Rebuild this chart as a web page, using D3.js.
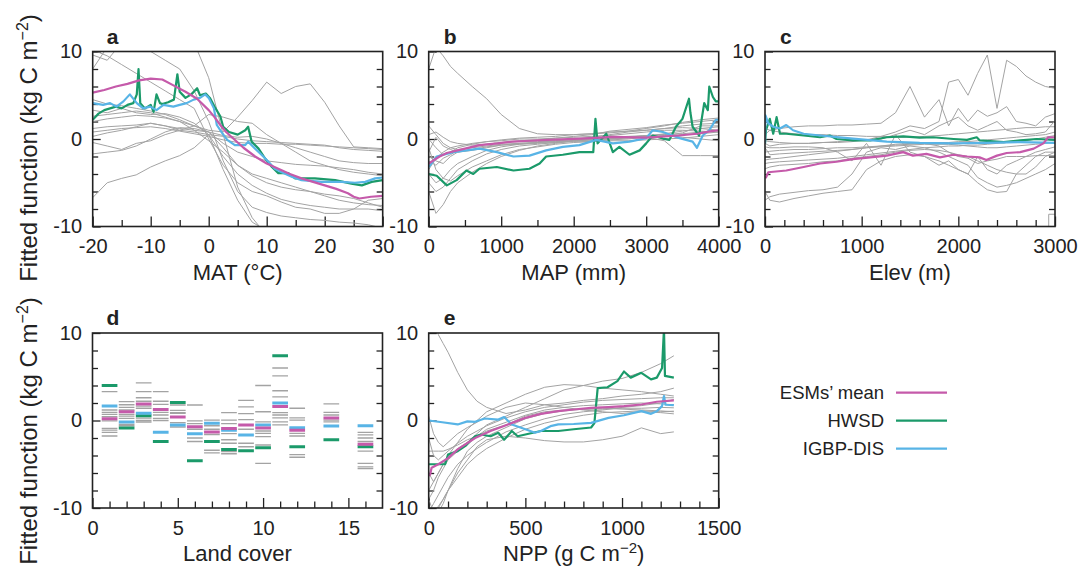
<!DOCTYPE html>
<meta charset="utf-8">
<script src="https://d3js.org/d3.v7.min.js"></script>
<style>
  body { margin: 0; background: #fff; font-family: "Liberation Sans", Arial, Helvetica, sans-serif; }
  svg text { fill: #222; }
  .axis line { stroke: #222; stroke-width: 1.3; }
  .axis text { font-size: 20px; font-family: "Liberation Sans", Arial, sans-serif; fill: #222; }
</style>
<body>
<div id="viz"></div>
<script>
// ---------- data ----------
const yMajor = [-10, 0, 10];
const yMinor = [-8, -6, -4, -2, 2, 4, 6, 8];
const yRight = [-8, -6, -4, -2, 0, 2, 4, 6, 8];

// a: MAT
const matMajor = [-20, -10, 0, 10, 20, 30];
const matMinor = [-15, -5, 5, 15, 25];
const matGrid = [-20, -17.5, -15, -12.5, -10, -7.5, -5, -2.5, 0, 2.5, 5, 7.5, 10, 12.5, 15, 17.5, 20, 22.5, 25, 27.5, 30];
const matModels = [
  [9.6, 9.0, 11, 12, 12, 12, 11.5, 11, 7, 0.5, -5.5, -9, -11, -11, -11, -11, -11, -11, -11, -11, -11],
  [8.0, 10.5, 11, 11, 10, 9, 8, 5.5, 2, -2.5, -6, -7.8, -8.4, -8.8, -9.0, -9.2, -9.3, -9.5, -9.6, -9.8, -10.2],
  [3.3, 3.0, 3.5, 3.0, 2.8, 2.9, 2.5, 1.8, 0.5, -2.0, -4.0, -5.3, -6.2, -6.9, -7.3, -7.6, -7.8, -8.0, -8.0, -8.0, -8.2],
  [2.0, 2.3, 2.5, 2.7, 2.6, 2.4, 2.0, 1.5, 1.0, 0.8, 2.5, 4.4, 6.5, 5.2, 6.0, 6.3, 4.2, 1.5, -0.9, -1.0, -1.1],
  [1.2, 1.4, 1.5, 1.6, 1.8, 1.5, 1.0, 0.8, 0.5, 0.3, 0.0, -0.2, -0.3, -0.4, -0.5, -0.6, -0.7, -1.0, -1.2, -1.3, -1.4],
  [0.8, 1.0, 1.2, 1.3, 1.4, 1.2, 0.9, 0.6, 0.3, -0.1, -0.4, -0.5, -0.5, -0.6, -0.6, -0.7, -0.8, -0.9, -1.0, -1.1, -1.2],
  [0.3, 0.7, 1.0, 1.4, 1.8, 1.5, 1.2, 1.0, 0.8, 0.4, 0.2, 0.3, 0.0, -0.5, -1.0, -1.5, -2.0, -2.5, -2.7, -2.8, -2.8],
  [-0.4, -0.8, -1.2, -0.5, -0.2, 0.5, 1.0, 1.5, 2.8, 2.5, 2.0, 1.8, 0.5, -0.5, -1.5, -2.5, -3.0, -3.5, -3.8, -4.0, -4.2],
  [-6.7, -5.0, -4.5, -4.1, -3.2, -2.5, -1.9, -1.0, 0.5, -3.5, -7.0, -9.5, -10.5, -11, -11, -11, -11, -11, -11, -11, -11],
  [-1.7, -1.5, -1.3, -0.8, 0.0, 0.8, 1.3, 1.2, 0.8, -1.0, -3.0, -4.0, -4.5, -5.0, -5.5, -6.0, -6.5, -7.0, -7.3, -7.5, -7.6],
  [4.5, 4.0, 3.8, 3.5, 3.2, 2.8, 2.2, 1.5, 0.8, -0.5, -1.5, -2.0, -2.5, -2.7, -2.9, -3.0, -3.1, -3.3, -3.5, -3.8, -4.0],
  [10.2, 9.5, 8.5, 7.5, 6.5, 5.5, 4.5, 3.5, 0.0, -3.0, -5.0, -6.0, -6.5, -7.2, -7.8, -8.0, -8.5, -8.5, -8.0, -7.0, -6.8],
  [2.6, 2.8, 3.0, 3.2, 3.0, 2.5, 2.0, 1.0, -0.2, -1.5, -3.0, -4.2, -5.0, -5.5, -5.8, -6.0, -6.3, -6.5, -6.8, -7.3, -7.8]
];
const matMeanX = [-20, -18, -16, -14, -12, -10, -8, -6, -4, -2, 0, 1, 2, 3, 4, 5, 6, 8, 10, 12, 14, 16, 18, 20, 22, 24, 25, 26, 28, 30];
const matMean = [5.3, 5.6, 6.0, 6.3, 6.7, 6.9, 6.8, 6.1, 5.4, 4.6, 3.3, 2.5, 1.6, 0.8, 0.2, -0.4, -1.0, -2.0, -2.8, -3.4, -4.0, -4.5, -4.9, -5.3, -5.7, -6.2, -6.6, -6.8, -6.6, -6.5];
const matHwsdX = [-20, -19, -18, -17, -16, -15, -14, -13, -12.4, -12.1, -11.8, -11, -10, -9.5, -9, -8.4, -8, -7, -6, -5.4, -5, -4, -3, -2, -1.5, -0.5, 0.2, 1, 2, 2.5, 3.5, 5, 6.3, 6.8, 7.4, 8.6, 9.7, 10.9, 12, 13.7, 14.9, 18.3, 21.8, 24.6, 26.4, 28.1, 30];
const matHwsd = [2.2, 2.9, 3.3, 3.5, 3.7, 3.5, 3.9, 4.1, 5.1, 8.0, 4.1, 3.5, 3.9, 3.1, 5.1, 4.1, 4.0, 4.2, 4.5, 7.4, 5.4, 4.7, 5.1, 5.8, 5.0, 5.2, 4.7, 3.7, 2.6, 1.4, 0.8, 0.5, 1.0, 1.4, -0.3, -1.1, -2.2, -3.2, -3.9, -3.9, -4.5, -4.5, -4.7, -5.1, -5.3, -4.9, -4.7];
const matIgbpX = [-20, -18.2, -17, -15.9, -14.7, -13.6, -12.4, -11.3, -10.1, -9, -7.8, -6.1, -5, -3.8, -2.6, -1.5, -0.6, 0, 0.9, 1.4, 2.3, 3.2, 4.5, 6.3, 6.8, 8, 9.1, 10.3, 11.4, 12.6, 14.3, 16, 19.5, 22.9, 25.2, 27, 28.7, 30];
const matIgbp = [4.1, 3.9, 4.1, 3.7, 4.3, 5.1, 4.1, 3.5, 3.7, 3.3, 3.9, 3.7, 3.9, 4.1, 4.5, 4.7, 5.1, 4.7, 3.5, 1.6, 0.7, -0.1, -0.7, -0.7, -0.3, -1.1, -1.8, -2.6, -3.4, -3.8, -4.3, -4.7, -4.9, -4.9, -5.0, -4.9, -4.5, -4.4];

// b: MAP
const mapMajor = [0, 1000, 2000, 3000, 4000];
const mapMinor = [500, 1500, 2500, 3500];
const mapGrid = [0, 100, 200, 300, 400, 600, 800, 1000, 1250, 1500, 1750, 2000, 2250, 2500, 2750, 3000, 3250, 3500, 3750, 4000];
const mapModels = [
  [8, 10.5, 9.5, 8.3, 7.5, 6.0, 4.6, 2.8, 1.2, 0.6, 0.5, 0.5, 0.6, 0.8, 0.9, 1.2, 1.5, 1.9, 2.2, 2.4],
  [-6, -8.5, -7.5, -6, -5, -3.8, -2.8, -2.0, -1.3, -0.8, -0.5, -0.2, 0.0, 0.2, 0.3, 0.4, 0.5, 0.6, 0.8, 1.0],
  [-1.0, -3.5, -4.5, -4.8, -4.2, -3.2, -2.5, -1.8, -1.2, -0.9, -0.6, -0.4, -0.3, -0.1, 0.0, 0.2, 0.3, 0.5, 0.6, 0.8],
  [1.5, 0.5, -0.5, -1.0, -1.2, -1.0, -0.8, -0.6, -0.5, -0.4, -0.3, -0.2, -0.1, 0.0, 0.1, 0.2, -0.2, -1.9, -1.9, -1.9],
  [-2.0, -2.5, -2.8, -2.0, -1.5, -1.2, -0.9, -0.7, -0.6, -0.4, -0.2, 0.0, 0.2, 0.5, 0.8, 1.0, 1.2, 1.5, 1.7, 1.8],
  [-3.5, -2.2, -1.5, -1.0, -0.8, -0.5, -0.3, -0.1, 0.1, 0.2, 0.3, 0.5, 0.6, 0.7, 0.9, 1.0, 1.2, 1.3, 1.2, 1.0],
  [0.5, 0.8, 0.2, -0.3, -0.5, -0.7, -0.6, -0.4, -0.2, -0.1, 0.1, 0.3, 0.5, 0.9, 1.1, 1.3, 1.6, 1.8, 2.0, 2.2],
  [-4.0, -5.0, -4.5, -3.5, -2.8, -2.0, -1.3, -0.9, -0.6, -0.5, -0.4, -0.3, -0.3, -0.2, -0.2, -0.1, 0.0, 0.1, 0.3, 0.5],
  [-2.5, -3.0, -2.2, -1.8, -1.3, -0.9, -0.6, -0.4, -0.3, -0.3, -0.2, -0.1, 0.0, 0.1, 0.2, 0.3, 0.4, 0.7, 1.5, 1.5],
  [0.0, -1.0, -1.8, -1.5, -1.0, -0.6, -0.3, -0.2, 0.0, 0.0, 0.1, 0.2, 0.3, 0.4, 0.6, 0.8, 1.0, 1.0, 0.9, 0.8],
  [-5.0, -6.0, -5.5, -4.5, -3.5, -2.5, -1.7, -1.2, -0.8, -0.6, -0.4, -0.2, -0.1, 0.0, 0.2, 0.3, 0.6, 0.9, 1.2, 1.4],
  [-1.5, 0.2, -0.8, -1.2, -1.5, -1.3, -1.0, -0.7, -0.5, -0.4, -0.3, -0.2, -0.1, 0.1, 0.2, 0.4, 0.5, 0.2, 0.0, -0.2]
];
const mapMeanX = [0, 150, 250, 500, 700, 950, 1150, 1400, 1650, 2100, 2550, 3000, 3450, 3700, 3900, 4000];
const mapMean = [-2.8, -2.0, -1.6, -1.1, -0.7, -0.5, -0.3, -0.2, -0.1, 0.05, 0.25, 0.15, 0.4, 0.6, 0.9, 1.0];
const mapHwsdX = [0, 110, 250, 385, 520, 615, 700, 940, 1170, 1390, 1530, 1620, 1850, 2080, 2270, 2300, 2330, 2450, 2540, 2630, 2770, 2910, 3000, 3090, 3230, 3320, 3410, 3500, 3590, 3610, 3640, 3730, 3800, 3850, 3870, 3920, 3960, 4000];
const mapHwsd = [-4.0, -4.2, -5.3, -4.7, -3.6, -4.0, -3.4, -3.2, -3.6, -3.4, -2.8, -2.0, -1.8, -1.5, -1.5, 2.3, -0.5, 0.6, -1.5, -0.9, -1.8, -1.3, -0.5, 0.4, 0.05, -0.1, 1.4, 2.3, 4.6, 3.0, 1.4, 0.4, 4.1, 3.3, 6.0, 4.8, 4.3, 4.3];
const mapIgbpX = [0, 110, 340, 520, 700, 940, 1170, 1390, 1620, 1850, 2080, 2310, 2540, 2770, 3000, 3090, 3230, 3460, 3640, 3700, 3780, 3870, 3960, 4000];
const mapIgbp = [-3.2, -2.0, -1.5, -1.3, -1.1, -1.5, -2.0, -1.9, -1.3, -0.9, -0.7, -0.1, -0.5, -0.3, 0.1, 1.0, 0.8, 0.1, -0.3, -1.0, 0.4, 1.0, 2.2, 2.2];

// c: Elev
const elevMajor = [0, 1000, 2000, 3000];
const elevMinor = [200, 400, 600, 800, 1200, 1400, 1600, 1800, 2200, 2400, 2600, 2800];
const elevGrid = [0, 50, 150, 300, 450, 600, 750, 900, 1050, 1200, 1350, 1500, 1650, 1800, 1900, 2000, 2100, 2200, 2300, 2400, 2500, 2600, 2700, 2800, 2900, 3000];
const elevModels = [
  [-0.5, -0.8, -0.6, -0.5, -0.5, -0.4, -0.4, -0.3, -0.1, 0.3, 0.8, 1.5, 1.2, 2.0, 6.5, 6.8, 5.0, 7.5, 9.6, 3.5, 9.0, 8.3, 7.2, 6.5, 6.0, 5.8],
  [0.5, 1.0, 1.2, 1.4, 1.5, 1.5, 1.6, 1.6, 1.7, 1.8, 3.0, 6.0, 2.5, 4.5, 1.5, 3.5, 2.0, 3.3, 2.6, 3.0, 3.7, 2.0, 1.8, 1.5, 2.5, 2.9],
  [-7.0, -6.6, -6.3, -6.1, -5.9, -5.8, -5.5, -4.0, -1.5, -1.0, -1.2, -0.8, -1.0, -1.5, -2.0, -2.5, -3.0, -4.4, -5.0, -5.5, -5.3, -5.0, -4.5, -4.0, -3.5, -2.8],
  [-6.0, -7.0, -7.2, -6.8, -6.5, -6.2, -6.0, -5.8, -3.5, -2.5, -2.0, -1.8, -2.0, -2.5, -3.0, -3.5, -4.0, -5.0, -5.8, -6.1, -6.0, -4.0, -4.0, -3.2, -2.0, -1.5],
  [-3.4, -3.2, -3.0, -2.9, -2.8, -2.6, -2.5, -2.2, -2.0, -1.8, -1.5, -1.3, -1.2, -1.3, -1.5, -1.8, -2.0, -2.5, -3.0, -3.5, -3.8, -4.0, -3.0, -2.0, -1.5, -1.5],
  [-2.4, -2.3, -2.2, -2.0, -1.8, -1.6, -1.4, -1.2, -1.0, -0.9, -0.8, -0.7, -0.6, -0.6, -0.6, -0.7, -0.8, -0.9, -1.0, -1.0, -0.9, -0.8, -0.7, -0.6, -0.5, -0.35],
  [-1.5, -1.4, -1.3, -1.2, -1.2, -1.1, -1.0, -1.0, -0.9, -0.8, -0.7, -0.6, -0.5, -0.4, -0.4, -0.3, -0.3, -0.2, -0.1, 0.0, 0.1, 0.2, 0.3, 0.4, 0.5, 0.8],
  [1.2, 1.0, 0.8, 0.6, 0.5, 0.5, 0.4, 0.4, 0.3, 0.3, 0.2, 0.2, 0.3, 0.4, 0.5, 0.6, 0.7, 0.8, 0.9, 1.0, 1.1, 1.2, 1.3, 1.3, 1.4, 1.4],
  [-0.9, -1.0, -1.0, -0.9, -0.9, -1.0, -1.5, -2.5, -0.5, -3.0, 0.5, -1.5, -2.0, -3.0, -2.5, -3.5, -4.0, -2.0, -3.5, -4.0, -3.0, -2.5, -2.0, -1.5, -1.2, -0.9],
  [-2.8, -2.7, -2.6, -2.5, -2.4, -2.3, -2.2, -2.0, -1.8, -1.6, -1.4, -1.2, -1.0, -0.9, -0.8, -0.8, -0.7, -0.7, -0.6, -0.5, -0.4, -0.3, -0.2, 0.0, 0.2, 0.4],
  [-0.2, -0.3, -0.4, -0.5, -0.5, -0.4, -0.3, -0.2, -0.1, 0.0, 0.5, 1.0, 0.5, 1.5, 2.0, 2.5, 1.5, 1.0, 1.5, 2.0, 1.0, 0.8, 0.5, 0.6, 0.8, 2.1],
  [-1.0, -1.8, -1.7, -1.6, -1.5, -1.4, -1.3, -1.2, -1.0, -0.8, -0.6, -0.5, -0.5, -0.8, -1.5, -2.0, -2.2, -2.8, -2.5, -2.3, -2.0, -2.0, -2.0, -1.9, -1.9, -1.9]
];
const elevTailX = [2935, 2935, 3000];
const elevTail = [-10.5, -8.6, -8.6];
const elevMeanX = [0, 10, 34, 220, 400, 570, 740, 910, 1090, 1260, 1430, 1530, 1670, 1810, 1950, 2090, 2220, 2290, 2400, 2500, 2640, 2780, 2880, 2930, 3000];
const elevMean = [-4.4, -4.4, -3.8, -3.6, -3.2, -2.8, -2.6, -2.3, -2.1, -1.9, -1.5, -1.9, -1.7, -2.1, -1.8, -2.0, -2.1, -2.4, -1.9, -1.6, -1.5, -1.1, -0.5, 0.2, 0.2];
const elevHwsdX = [0, 10, 50, 85, 120, 155, 220, 400, 570, 670, 740, 910, 1090, 1260, 1430, 1600, 1740, 1950, 2090, 2190, 2220, 2470, 2640, 2810, 3000];
const elevHwsd = [-0.5, 1.0, 2.3, 0.6, 2.5, 0.6, 0.6, 0.4, 0.2, 0.4, 0.0, -0.15, -0.15, 0.2, 0.3, 0.15, 0.2, 0.0, -0.1, 0.2, -0.15, -0.35, -0.15, 0.0, -0.1];
const elevIgbpX = [0, 5, 34, 85, 155, 220, 290, 400, 570, 910, 1260, 1600, 1950, 2290, 2640, 3000];
const elevIgbp = [-0.5, 2.7, 1.8, 1.4, 1.2, 1.6, 1.0, 0.6, 0.4, 0.05, -0.3, -0.45, -0.5, -0.45, -0.35, -0.45];

// d: land cover
const landMajor = [0, 5, 10, 15];
const landMinor = [1, 2, 3, 4, 6, 7, 8, 9, 11, 12, 13, 14, 16];
const landClasses = [1, 2, 3, 4, 5, 6, 7, 8, 9, 10, 11, 12, 14, 16];
const landMean = [0.2, 1.0, 1.9, 1.27, 0.4, -0.7, -1.3, -0.9, -0.5, -0.85, 1.6, -1.1, 0.3, -2.7];
const landHwsd = [4.0, -0.86, 0.55, -2.4, 2.07, -4.6, -2.4, -3.3, -3.45, -3.1, 7.4, -3.0, -2.2, -3.0];
const landIgbp = [1.65, -0.17, 0.82, -1.35, -0.5, -1.5, -0.32, -1.1, -1.65, -0.5, 2.0, -0.82, -0.62, -0.6];
const landModels = [
  [3.3, 1.2, 0.93, 0.7, 0.44, -0.05, -0.9, -1.1, -1.35, -1.77],
  [2.15, 1.8, 1.5, 1.2, 0.7, 0.5, 0.25, -0.44, -0.6],
  [4.3, 3.3, 2.6, 2.2, 1.65, 1.4, 0.28, 0.0, -0.17],
  [3.3, 2.2, 1.85, 0.93, 0.63, 0.25, 0.0],
  [1.77, 1.16, 0.9, 0.82, -0.25, -0.74],
  [1.77, -0.05, -0.36, -1.0, -2.0, -2.4],
  [0.05, -0.6, -1.0, -1.6, -3.4, -3.7],
  [0.9, 0.05, -0.36, -1.5, -2.2, -2.6, -3.55, -3.8],
  [2.3, 1.55, 0.78, 0.1, -1.0, -2.6, -3.0],
  [4.0, 1.0, -0.15, -1.2, -1.46, -1.85, -2.8, -4.9],
  [6.0, 5.1, 3.4, 2.7, 0.9, 0.63, 0.3, -0.15, -0.5],
  [1.4, 0.3, 0.05, -1.46, -1.77, -3.9, -4.2],
  [1.9, 0.93, 0.63, 0.05, -0.15],
  [-1.35, -1.65, -2.0, -2.4, -3.5, -4.9, -5.3, -5.5]
];

// e: NPP
const nppMajor = [0, 500, 1000, 1500];
const nppMinor = [100, 200, 300, 400, 600, 700, 800, 900, 1100, 1200, 1300, 1400];
const nppGrid = [0, 25, 50, 75, 100, 150, 200, 250, 300, 400, 500, 600, 700, 800, 900, 1000, 1100, 1200, 1268];
const nppModels = [
  [12, 12, 9.8, 8.8, 7.8, 5.5, 3.5, 2.2, 1.5, 0.8, 1.2, 1.8, 2.0, 2.3, 2.5, 2.8, 3.0, 3.3, 3.7],
  [-10.5, -9.5, -8.5, -7.5, -6.5, -5.0, -4.0, -3.2, -2.5, -1.3, -0.5, 0.2, 0.7, 1.0, 1.2, 1.5, 1.7, 2.0, 2.4],
  [-3.5, -3.5, -3.5, -3.5, -3.3, -2.8, -2.2, -1.8, -1.2, -0.5, 0.5, 1.0, 1.2, 1.3, 1.3, 1.4, 1.4, 1.5, 1.45],
  [-11, -10.5, -10, -9.0, -8.0, -6.5, -5.0, -4.0, -3.2, -2.0, -1.0, -0.3, 0.2, 0.6, 0.9, 1.0, 1.1, 1.0, 1.07],
  [0.5, -1.5, -2.5, -3.0, -2.5, -1.5, -0.8, -0.2, 0.5, 1.5, 2.0, 1.8, 1.5, 1.2, 1.0, 0.8, 1.0, 0.9, 0.76],
  [-10.5, -10.5, -9.8, -9.0, -8.0, -6.0, -4.5, -3.0, -2.2, -1.8, -2.0, -2.3, -2.45, -2.45, -2.2, -1.8, -0.84, -1.5, -1.3],
  [-9.0, -8.0, -6.5, -5.5, -4.5, -3.5, -2.5, -1.5, -0.5, 0.5, 1.5, 2.5, 3.5, 4.0, 4.5, 4.8, 5.5, 6.5, 7.4],
  [-8, -7, -6, -5, -4, -2.5, -1.0, 0.0, 1.0, 2.0, 3.0, 3.8, 4.1, 4.0, 3.7, 3.5, 3.3, 3.0, 2.8],
  [-6.0, -7.0, -6.0, -5.0, -4.2, -3.2, -2.5, -1.8, -1.0, -0.2, 0.6, 1.2, 1.5, 1.7, 1.8, 1.9, 2.0, 1.9, 1.8],
  [-2.0, -4.0, -4.5, -4.0, -3.5, -2.6, -1.8, -1.2, -0.6, 0.3, 1.0, 1.5, 1.8, 2.1, 2.3, 2.4, 2.5, 2.6, 2.6],
  [-9.0, -10.5, -10.5, -9.5, -8.0, -5.5, -3.5, -2.5, -1.8, -0.8, 0.2, 0.8, 1.1, 1.3, 1.4, 1.3, 1.2, 1.1, 1.0]
];
const nppMeanX = [0, 7, 15, 50, 100, 150, 240, 320, 410, 500, 580, 670, 750, 840, 930, 1010, 1100, 1180, 1268];
const nppMean = [-6.3, -6.2, -5.4, -5.0, -4.3, -3.3, -2.0, -1.2, -0.45, 0.3, 0.76, 1.07, 1.26, 1.45, 1.53, 1.64, 1.83, 2.14, 2.3];
const nppHwsdX = [0, 30, 85, 100, 150, 190, 240, 270, 320, 360, 390, 430, 460, 500, 580, 670, 750, 840, 857, 874, 925, 976, 1010, 1045, 1100, 1150, 1180, 1207, 1217, 1222, 1268];
const nppHwsd = [-5.0, -5.0, -5.0, -3.9, -3.5, -2.9, -1.8, -1.6, -1.8, -1.4, -2.2, -1.2, -1.8, -1.6, -1.2, -1.2, -1.0, -0.8, -0.3, 3.7, 3.8, 4.5, 5.6, 4.9, 5.45, 4.7, 4.9, 6.0, 10.5, 5.1, 4.9];
const nppIgbpX = [0, 70, 150, 200, 240, 290, 360, 390, 430, 500, 550, 580, 630, 670, 750, 840, 930, 1010, 1100, 1150, 1180, 1207, 1217, 1225, 1268];
const nppIgbp = [0.0, -0.2, -0.45, -0.1, -0.15, 0.23, 0.1, 0.4, -0.45, -1.0, -1.4, -1.2, -0.65, -0.45, -0.4, -0.27, 0.3, 0.6, 1.07, 0.76, 1.07, 1.64, 2.8, 1.8, 1.75];

const legendNames = ["ESMs\u2019 mean", "HWSD", "IGBP-DIS"];
const colMean = "#c55aaa", colHwsd = "#1b9a6a", colIgbp = "#58b4e6", colGray = "#a3a3a3";
const legendColors = [colMean, colHwsd, colIgbp];

// ---------- drawing ----------
const W = 290, H = 175;
const svg = d3.select("#viz").append("svg")
  .attr("width", 1084).attr("height", 572)
  .style("font-family", "'Liberation Sans', Arial, Helvetica, sans-serif");

function noDomain(g) { g.select(".domain").remove(); }

function panel(o) {
  const g = svg.append("g").attr("transform", `translate(${o.left},${o.top})`);
  const x = d3.scaleLinear().domain(o.xDomain).range([0, W]);
  const y = d3.scaleLinear().domain([-10, 10]).range([H, 0]);

  g.append("clipPath").attr("id", "clip-" + o.name)
    .append("rect").attr("width", W).attr("height", H);

  // ticks (inward)
  g.append("g").attr("class", "axis").attr("transform", `translate(0,${H})`)
    .call(d3.axisBottom(x).tickValues(o.xMinor).tickSize(-6.5).tickFormat(""))
    .call(noDomain);
  g.append("g").attr("class", "axis").attr("transform", `translate(0,${H})`)
    .call(d3.axisBottom(x).tickValues(o.xMajor).tickSize(-10).tickPadding(12.5).tickFormat(d => String(d)))
    .call(noDomain);
  g.append("g").attr("class", "axis")
    .call(d3.axisLeft(y).tickValues(yMinor).tickSize(-5.5).tickFormat(""))
    .call(noDomain);
  g.append("g").attr("class", "axis")
    .call(d3.axisLeft(y).tickValues(yMajor).tickSize(-8).tickPadding(10.5).tickFormat(d => String(d)))
    .call(noDomain);
  g.append("g").attr("class", "axis").attr("transform", `translate(${W},0)`)
    .call(d3.axisRight(y).tickValues(yRight).tickSize(-6).tickFormat(""))
    .call(noDomain);

  const plot = g.append("g").attr("clip-path", `url(#clip-${o.name})`);
  o.draw(plot, x, y);

  g.append("rect").attr("width", W).attr("height", H)
    .attr("fill", "none").attr("stroke", "#222").attr("stroke-width", 1.6);

  g.append("text").attr("x", o.letterX).attr("y", -8)
    .style("font-size", "21px").style("font-weight", "bold").text(o.name);

  const t = g.append("text").attr("x", W / 2).attr("y", H + 53)
    .attr("text-anchor", "middle").style("font-size", "22px");
  t.append("tspan").text(o.title[0]);
  if (o.title.length > 1) {
    t.append("tspan").attr("dy", -8.5).style("font-size", "15px").text(o.title[1]);
    t.append("tspan").attr("dy", 8.5).text(o.title[2]);
  }
}

function lines(xs, series, color, width) {
  return function (plot, x, y) {
    const line = d3.line().x(d => x(d[0])).y(d => y(d[1]));
    series.forEach(s => {
      plot.append("path").datum(d3.zip(xs, s))
        .attr("fill", "none").attr("stroke", color)
        .attr("stroke-width", width).attr("stroke-linejoin", "round")
        .attr("d", line);
    });
  };
}

function curvePanel(grid, models, meanX, mean, hwsdX, hwsd, igbpX, igbp, extra) {
  return function (plot, x, y) {
    lines(grid, models, colGray, 1)(plot, x, y);
    if (extra) lines(extra[0], [extra[1]], colGray, 1)(plot, x, y);
    lines(hwsdX, [hwsd], colHwsd, 2.2)(plot, x, y);
    lines(igbpX, [igbp], colIgbp, 2.2)(plot, x, y);
    lines(meanX, [mean], colMean, 2.2)(plot, x, y);
  };
}

panel({ name: "a", left: 92.7, top: 51.5, xDomain: [-20, 30], xMajor: matMajor, xMinor: matMinor,
  letterX: 14, title: ["MAT (\u00B0C)"],
  draw: curvePanel(matGrid, matModels, matMeanX, matMean, matHwsdX, matHwsd, matIgbpX, matIgbp) });

panel({ name: "b", left: 428.7, top: 51.5, xDomain: [0, 4000], xMajor: mapMajor, xMinor: mapMinor,
  letterX: 15, title: ["MAP (mm)"],
  draw: curvePanel(mapGrid, mapModels, mapMeanX, mapMean, mapHwsdX, mapHwsd, mapIgbpX, mapIgbp) });

panel({ name: "c", left: 765, top: 51.5, xDomain: [0, 3000], xMajor: elevMajor, xMinor: elevMinor,
  letterX: 15, title: ["Elev (m)"],
  draw: curvePanel(elevGrid, elevModels, elevMeanX, elevMean, elevHwsdX, elevHwsd, elevIgbpX, elevIgbp, [elevTailX, elevTail]) });

panel({ name: "d", left: 92.5, top: 333, xDomain: [0, 17], xMajor: landMajor, xMinor: landMinor,
  letterX: 14, title: ["Land cover"],
  draw: function (plot, x, y) {
    const half = 0.46;
    landClasses.forEach((c, i) => {
      landModels[i].forEach(v => {
        plot.append("line").attr("x1", x(c - half)).attr("x2", x(c + half))
          .attr("y1", y(v)).attr("y2", y(v))
          .attr("stroke", colGray).attr("stroke-width", 1.3);
      });
    });
    [[landHwsd, colHwsd], [landIgbp, colIgbp], [landMean, colMean]].forEach(([vals, col]) => {
      plot.selectAll(null).data(landClasses).enter().append("line")
        .attr("x1", c => x(c - half)).attr("x2", c => x(c + half))
        .attr("y1", (c, i) => y(vals[i])).attr("y2", (c, i) => y(vals[i]))
        .attr("stroke", col).attr("stroke-width", 3);
    });
  } });

panel({ name: "e", left: 428.7, top: 333, xDomain: [0, 1500], xMajor: nppMajor, xMinor: nppMinor,
  letterX: 15, title: ["NPP (g C m", "\u22122", ")"],
  draw: curvePanel(nppGrid, nppModels, nppMeanX, nppMean, nppHwsdX, nppHwsd, nppIgbpX, nppIgbp) });

// y-axis titles
[148, 431].forEach(cy => {
  const t = svg.append("text").attr("transform", `translate(37,${cy}) rotate(-90)`)
    .attr("text-anchor", "middle").style("font-size", "24px");
  t.append("tspan").text("Fitted function (kg C m");
  t.append("tspan").attr("dy", -9).style("font-size", "16px").text("\u22122");
  t.append("tspan").attr("dy", 9).text(")");
});

// legend
const legend = svg.append("g");
legendNames.forEach((name, i) => {
  const ly = 392.7 + i * 28;
  legend.append("text").attr("x", 884).attr("y", ly + 6.5)
    .attr("text-anchor", "end").style("font-size", "18.5px").text(name);
  legend.append("line").attr("x1", 896).attr("x2", 947).attr("y1", ly).attr("y2", ly)
    .attr("stroke", legendColors[i]).attr("stroke-width", 2.2);
});
</script>
</body>
